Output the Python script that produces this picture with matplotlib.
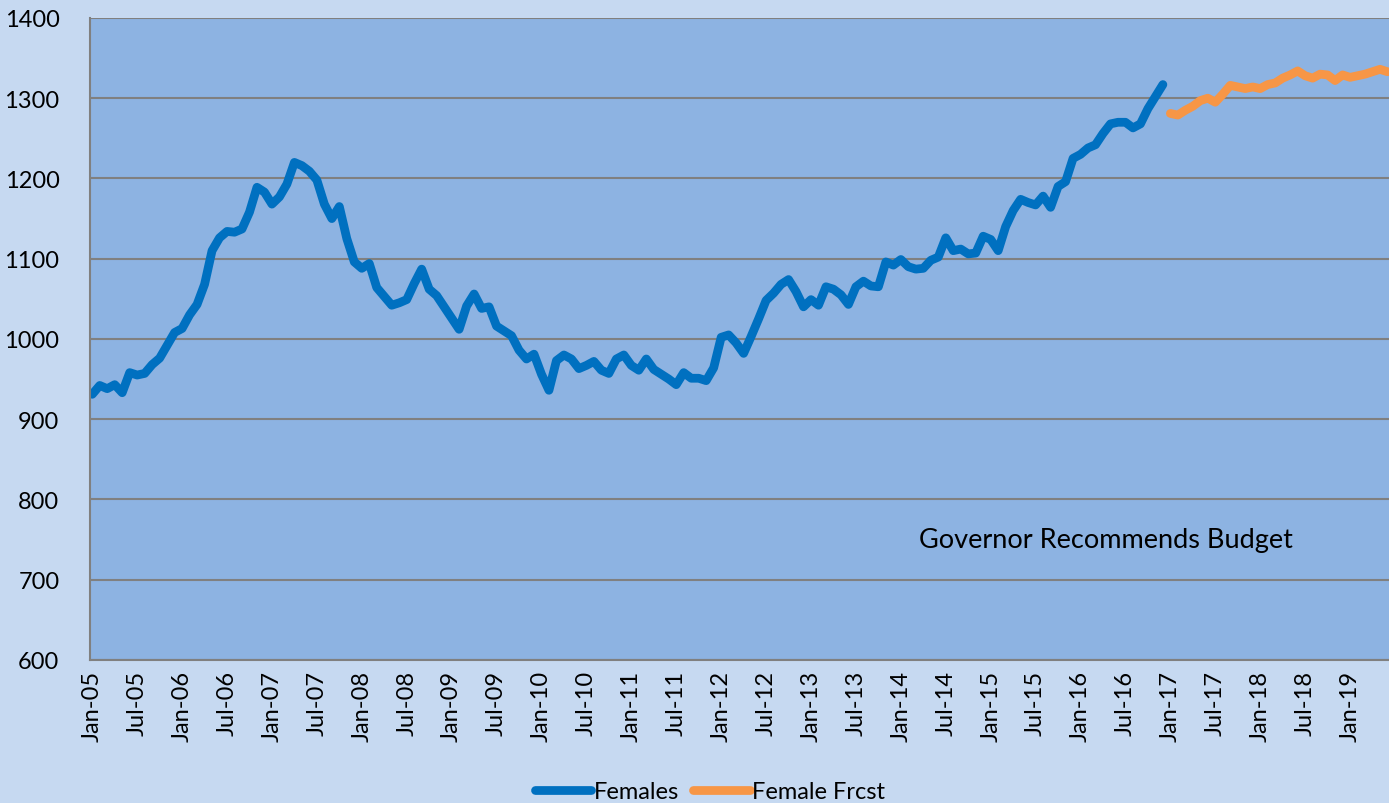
import matplotlib.pyplot as plt

# monthly counts, Jan-05 .. Dec-16
females = [
    931, 942, 938, 943, 933, 958, 955, 957, 968, 976, 992, 1008,
    1013, 1030, 1043, 1068, 1110, 1126, 1134, 1133, 1137, 1158, 1189, 1183,
    1168, 1177, 1193, 1220, 1216, 1209, 1198, 1168, 1150, 1165, 1125, 1096,
    1088, 1094, 1064, 1053, 1042, 1045, 1049, 1069, 1087, 1062, 1054, 1040,
    1026, 1012, 1041, 1056, 1038, 1040, 1016, 1010, 1004, 986, 975, 981,
    956, 936, 973, 980, 975, 963, 967, 972, 961, 957, 975, 980,
    967, 961, 975, 962, 956, 950, 943, 958, 951, 951, 948, 964,
    1002, 1005, 995, 982, 1003, 1025, 1048, 1057, 1068, 1074, 1059, 1040,
    1049, 1042, 1065, 1062, 1055, 1043, 1065, 1072, 1066, 1065, 1096, 1092,
    1099, 1090, 1087, 1088, 1098, 1102, 1126, 1110, 1112, 1106, 1107, 1128,
    1124, 1110, 1140, 1160, 1174, 1170, 1167, 1178, 1164, 1190, 1196, 1225,
    1230, 1238, 1242, 1256, 1268, 1270, 1270, 1263, 1268, 1287, 1302, 1317,
]
# forecast, Jan-17 .. Jun-19
frcst = [
    1281, 1279, 1285, 1290, 1297, 1300, 1295, 1305, 1316, 1314,
    1312, 1314, 1312, 1317, 1319, 1325, 1329, 1334, 1328, 1325,
    1330, 1329, 1322, 1329, 1326, 1328, 1330, 1333, 1336, 1333,
]

months = ["Jan", "Jul"]
years = list(range(5, 20))
tick_labels = []
for y in years:
    for m in months:
        tick_labels.append("%s-%02d" % (m, y))
tick_labels = tick_labels[:-1]  # stops at Jan-19

plt.rcParams['font.family'] = ['Lato', 'DejaVu Sans']

fig = plt.figure(figsize=(13.89, 8.04), dpi=100, facecolor="#C6D9F1")
ax = fig.add_axes([0.0648, 0.178, 0.9352, 0.7984])
ax.set_facecolor("#8DB3E2")

x1 = list(range(len(females)))
x2 = list(range(len(females), len(females) + len(frcst)))
ax.plot(x1, females, color="#0070C0", lw=6.3, solid_capstyle="round",
        solid_joinstyle="round", label="Females")
ax.plot(x2, frcst, color="#F79646", lw=6.3, solid_capstyle="round",
        solid_joinstyle="round", label="Female Frcst")

ax.set_ylim(600, 1400)
ax.set_yticks(range(600, 1401, 100))
ax.set_xlim(-0.3, 173.2)
ax.set_xticks(range(0, 6 * len(tick_labels), 6))
ax.set_xticklabels(tick_labels, rotation=90)
ax.yaxis.grid(True, color="#808080", lw=1.5)
ax.set_axisbelow(True)
ax.tick_params(length=0, labelsize=17, pad=7)
ax.tick_params(axis="y", labelsize=17, pad=22)
for s in ["top", "right"]:
    ax.spines[s].set_visible(False)
for s in ["left", "bottom"]:
    ax.spines[s].set_color("#808080")
    ax.spines[s].set_linewidth(1.5)

ax.text(0.638, 0.188, "Governor Recommends Budget", transform=ax.transAxes,
        fontsize=19.5, color="black", va="center")

fig.legend(loc="lower center", bbox_to_anchor=(0.511, -0.025), ncol=2,
           frameon=False, fontsize=17, handlelength=2.4, handletextpad=0.1,
           columnspacing=0.6)

fig.savefig("out.png", dpi=100, facecolor=fig.get_facecolor())
